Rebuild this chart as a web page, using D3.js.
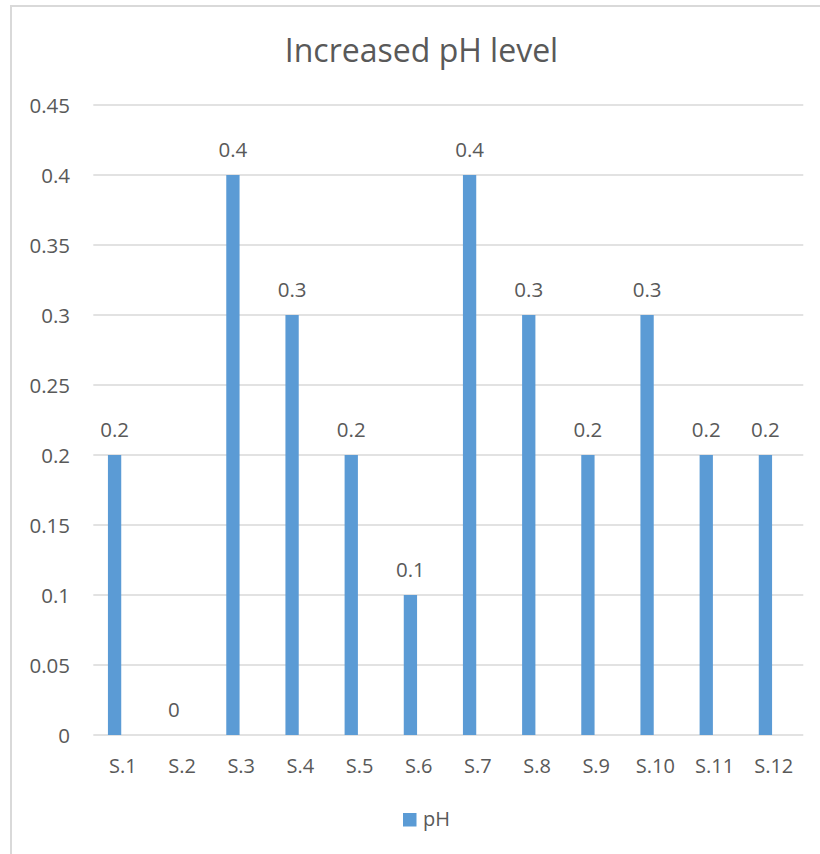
<!DOCTYPE html>
<html>
<head>
<meta charset="utf-8">
<script src="https://cdn.jsdelivr.net/npm/d3@7"></script>
<style>
  html, body { margin: 0; padding: 0; background: #fff; }
  svg { display: block; font-family: "Open Sans", "Liberation Sans", sans-serif; }
</style>
</head>
<body>
<svg id="chart" width="820" height="854"></svg>
<script>
const categories = ["S.1","S.2","S.3","S.4","S.5","S.6","S.7","S.8","S.9","S.10","S.11","S.12"];
const phValues = [0.2, 0, 0.4, 0.3, 0.2, 0.1, 0.4, 0.3, 0.2, 0.3, 0.2, 0.2];
const yTicks = [0, 0.05, 0.1, 0.15, 0.2, 0.25, 0.3, 0.35, 0.4, 0.45];
const seriesName = "pH";
const titleText = "Increased pH level";

const W = 820, H = 854;
const margin = {left: 93.3, right: 16.7, top: 105, bottom: 119};
const textColor = "#595959";
const gridColor = "#d9d9d9";
const barColor = "#5b9bd5";

const svg = d3.select("#chart");

// chart border
svg.append("rect")
  .attr("x", 11).attr("y", 6)
  .attr("width", W + 10).attr("height", H + 10)
  .attr("fill", "#fff")
  .attr("stroke", gridColor).attr("stroke-width", 2);

const x = d3.scaleBand()
  .domain(categories)
  .range([margin.left, W - margin.right])
  .paddingInner(0).paddingOuter(0);

const y = d3.scaleLinear()
  .domain([0, 0.45])
  .range([H - margin.bottom, margin.top]);

const barW = 13.3;
const barShift = -8.3; // offset of the (single) series within its cluster slot

// gridlines
svg.append("g")
  .selectAll("line")
  .data(yTicks)
  .join("line")
  .attr("x1", margin.left).attr("x2", W - margin.right)
  .attr("y1", d => y(d)).attr("y2", d => y(d))
  .attr("stroke", gridColor).attr("stroke-width", 1.5);

// y axis labels
const yAxis = d3.axisLeft(y).tickValues(yTicks).tickSize(0).tickPadding(0)
  .tickFormat(d => d3.format("")(+d.toFixed(2)));
const yg = svg.append("g")
  .attr("transform", `translate(70,0)`)
  .call(yAxis);
yg.select(".domain").remove();
yg.selectAll("text")
  .attr("fill", textColor)
  .attr("font-size", 20.5)
  .attr("font-family", "Open Sans, Liberation Sans, sans-serif")
  .attr("dy", "0.35em");

// x axis labels
const xAxis = d3.axisBottom(x).tickSize(0).tickPadding(0);
const xg = svg.append("g")
  .attr("transform", `translate(0,${y(0)})`)
  .call(xAxis);
xg.select(".domain").remove();
xg.selectAll("text")
  .attr("fill", textColor)
  .attr("font-size", 20)
  .attr("font-family", "Open Sans, Liberation Sans, sans-serif")
  .attr("dy", null)
  .attr("y", 38);

// bars
const data = categories.map((c, i) => ({c, v: phValues[i]}));
svg.append("g")
  .selectAll("rect")
  .data(data)
  .join("rect")
  .attr("x", d => x(d.c) + x.bandwidth() / 2 + barShift - barW / 2)
  .attr("width", barW)
  .attr("y", d => y(d.v))
  .attr("height", d => y(0) - y(d.v))
  .attr("fill", barColor);

// data labels
svg.append("g")
  .selectAll("text")
  .data(data)
  .join("text")
  .attr("x", d => x(d.c) + x.bandwidth() / 2 + barShift)
  .attr("y", d => y(d.v) - 18)
  .attr("text-anchor", "middle")
  .attr("fill", textColor)
  .attr("font-size", 20.5)
  .text(d => d3.format("")(d.v));

// title
svg.append("text")
  .attr("x", 421.5).attr("y", 62)
  .attr("text-anchor", "middle")
  .attr("fill", textColor)
  .attr("font-size", 32)
  .text(titleText);

// legend
const lg = svg.append("g");
lg.append("rect")
  .attr("x", 403).attr("y", 813)
  .attr("width", 13.5).attr("height", 13.5)
  .attr("fill", barColor);
lg.append("text")
  .attr("x", 423).attr("y", 826)
  .attr("fill", textColor)
  .attr("font-size", 20)
  .text(seriesName);
</script>
</body>
</html>
